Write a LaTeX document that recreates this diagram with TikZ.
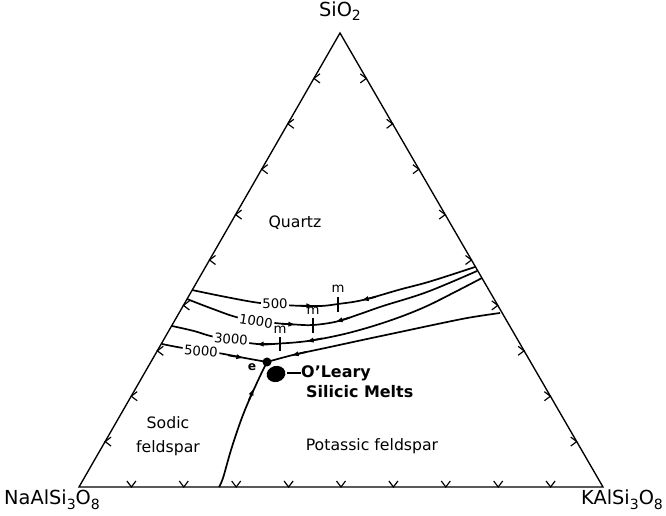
\documentclass[tikz,border=0pt]{standalone}
\usepackage{fontspec}
\setmainfont{DejaVu Sans}
\usetikzlibrary{arrows.meta,calc}
\newcommand\lowsb[2]{\raisebox{-0.45ex}{\fontsize{#1}{#1}\selectfont #2}}
\begin{document}
\begin{tikzpicture}[x=0.03cm, y=-0.03cm,
  edge/.style={line width=1.15pt},
  curve/.style={line width=1.45pt},
  tickmark/.style={line width=1pt},
  arr/.style={line width=1.45pt, -{Latex[length=6.5pt,width=4.5pt]}},
  lbl/.style={font=\fontsize{13.4}{16}\selectfont, inner sep=0pt},
  num/.style={font=\fontsize{11.3}{13}\selectfont, fill=white, inner sep=1.4pt},
  corner/.style={font=\fontsize{16.5}{20}\selectfont, inner sep=0pt},
  melt/.style={font=\bfseries\fontsize{13.6}{16}\selectfont, inner sep=0pt, anchor=west},
  mlab/.style={font=\fontsize{11.3}{13}\selectfont, inner sep=0pt},
  ]
\useasboundingbox (0,0) rectangle (666,516);
\fill[white] (0,0) rectangle (666,516);

% vertices
\coordinate (S) at (340,33);
\coordinate (A) at (79,487);
\coordinate (K) at (603,487);
\draw[edge, line join=miter] (A) -- (S) -- (K) -- cycle;

% edge tick chevrons
\foreach \i in {1,...,9} {
  \path (A) -- (S) coordinate[pos=\i/10] (L\i);
  \path (K) -- (S) coordinate[pos=\i/10] (R\i);
  \path (A) -- (K) coordinate[pos=\i/10] (B\i);
  \draw[tickmark] ($(L\i)+(6,-4.5)$) -- (L\i) -- ($(L\i)+(6,4.5)$);
  \draw[tickmark] ($(R\i)+(-6,-4.5)$) -- (R\i) -- ($(R\i)+(-6,4.5)$);
  \draw[tickmark] ($(B\i)+(-4.5,-6)$) -- (B\i) -- ($(B\i)+(4.5,-6)$);
}

% isobaric curves
\draw[curve] plot[smooth, tension=0.6] coordinates {(192,290) (226,297) (260,303) (292,305.5) (320,306) (338,304) (363,300) (400,289.5) (430,281.5) (475,267)};
\draw[curve] plot[smooth, tension=0.6] coordinates {(187,299) (213,309) (240,318) (275,323) (295,324.5) (313,325) (337,321.5) (360,314) (383,306) (427,292) (477,271)};
\draw[curve] plot[smooth, tension=0.6] coordinates {(172,326) (194,331) (215,337) (257,344) (280,343.5) (308,341) (340,335) (370,327) (400,317) (427,306) (455,292) (482,278)};
\draw[curve] plot[smooth, tension=0.6] coordinates {(162,344) (183,348) (218,353) (242,357.5) (267,362)};
\draw[curve] plot[smooth, tension=0.6] coordinates {(500,313) (470,317.5) (440,323.5) (400,332) (367,339) (330,347) (293,355) (267,362)};
\draw[curve] plot[smooth, tension=0.6] coordinates {(267,362) (262,372) (255,387) (247,405) (240,423) (231,450) (223,478) (219,487)};

% arrows on curves
\draw[arr] (300,305.6) -- (314,306);
\draw[arr] (376,296.8) -- (361,300.4);
\draw[arr] (282,323.8) -- (296,324.6);
\draw[arr] (350,317.5) -- (335,322);
\draw[arr] (272,344) -- (256,344.2);
\draw[arr] (322,338.5) -- (306,341.5);
\draw[arr] (228,355.3) -- (244,357.9);
\draw[arr] (306,352) -- (291,355.5);
\draw[arr] (249,400) -- (254,388);

% pressure labels
\node[num] at (275,304) {500};
\node[num, rotate=-9] at (256,321) {1000};
\node[num, rotate=-5] at (231,339) {3000};
\node[num, rotate=-5] at (201,351) {5000};

% minima
\draw[curve] (338,297) -- (338,312);
\node[mlab] at (338,289) {m};
\draw[curve] (313,318) -- (313,333);
\node[mlab] at (313,311) {m};
\draw[curve] (280,337) -- (280,351);
\node[mlab] at (280,330) {m};

% eutectic
\fill (267,362) circle (4.5);
\node[font=\bfseries\fontsize{10.5}{12}\selectfont, inner sep=0pt] (e) at (252,367) {e};

% O'Leary melts
\fill[rotate around={15:(276,374)}] (276,374) ellipse (9.5 and 8);
\coordinate (ol) at (287,373);
\node[melt] (oleary) at (301,373) {O'Leary};
\node[melt] (silicic) at (306,392) {Silicic Melts};
\draw[line width=1.3pt] (ol) -- (oleary.west);

% field labels
\node[lbl] at (295,223) {Quartz};
\node[lbl] at (168,423) {Sodic};
\node[lbl] at (168,448) {feldspar};
\node[lbl] at (372,446) {Potassic feldspar};

% corner labels
\node[corner, anchor=south] at (340,21) {SiO\lowsb{12}{2}};
\node[corner, anchor=west] at (4,500) {NaAlSi\lowsb{12}{3}O\lowsb{12}{8}};
\node[corner, anchor=west] at (581,500) {KAlSi\lowsb{12}{3}O\lowsb{12}{8}};
\end{tikzpicture}
\end{document}
